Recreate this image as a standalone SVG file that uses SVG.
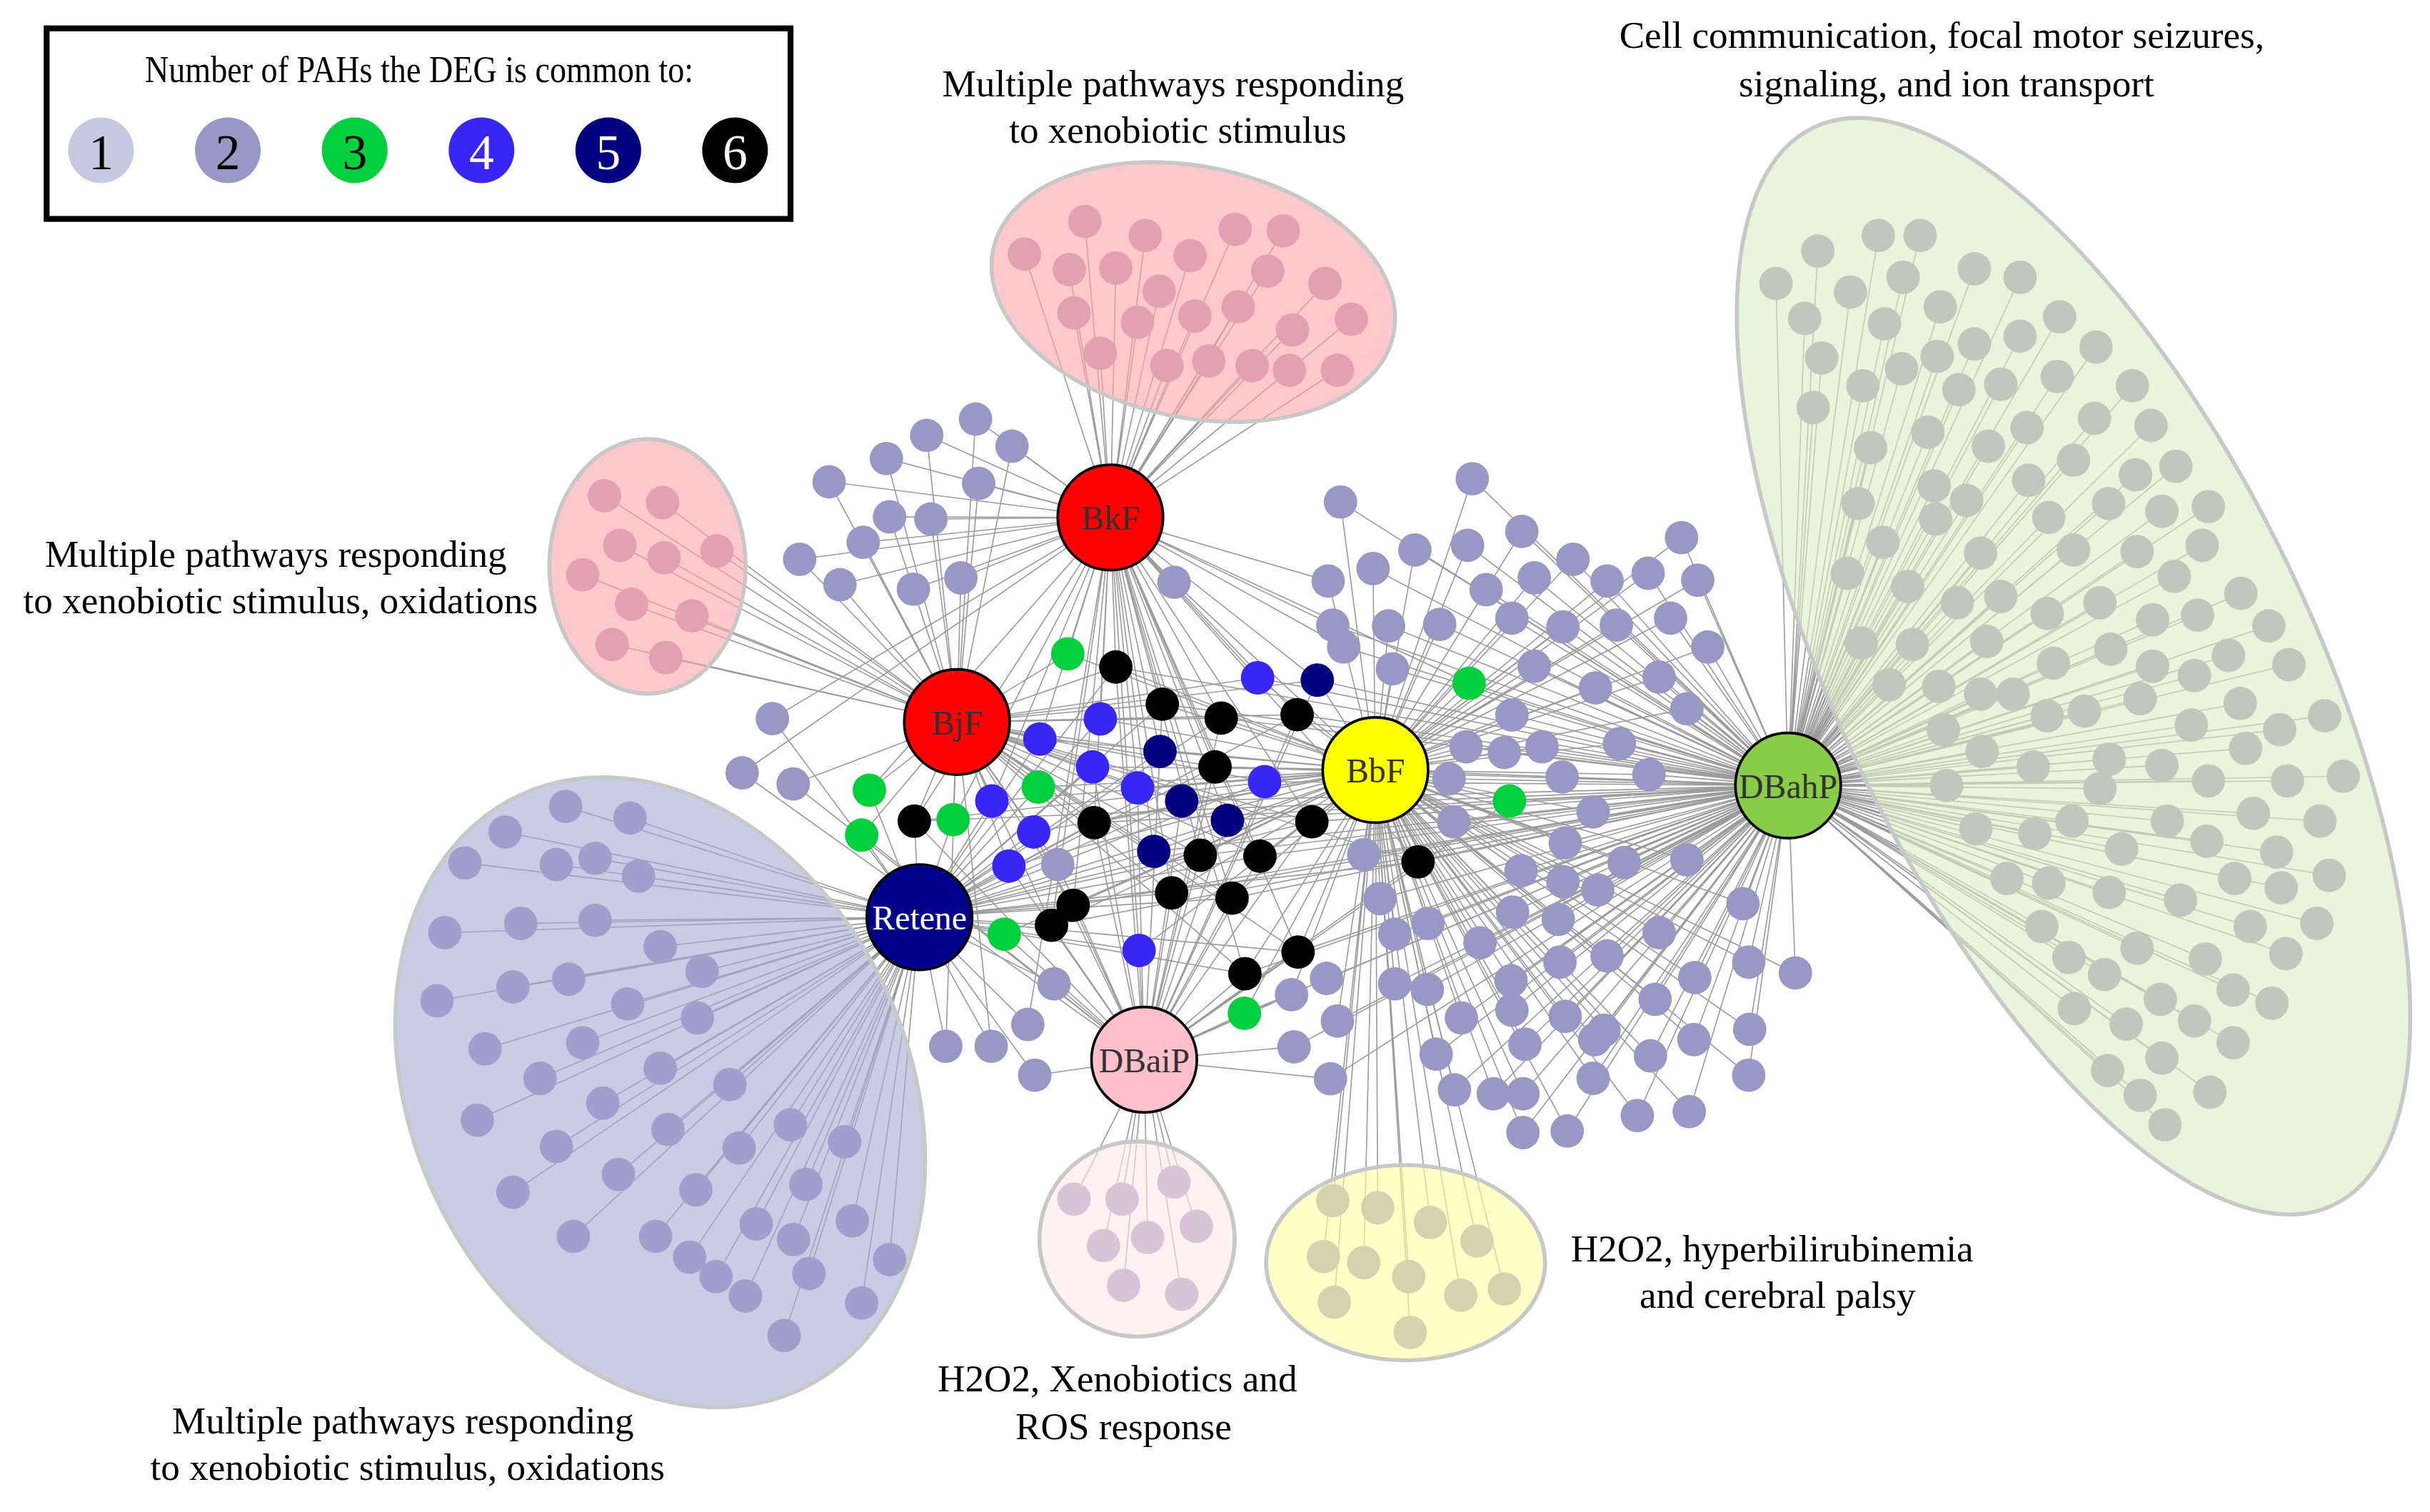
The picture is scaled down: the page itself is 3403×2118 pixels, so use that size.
<svg xmlns="http://www.w3.org/2000/svg" width="3403" height="2118" viewBox="0 0 3403 2118">
<style>
.e{fill:none;stroke:#9c9c9c;stroke-width:.75}
.cl{stroke:#c8c8c8;stroke-width:2.6;fill-opacity:.6}
.t2{fill:#9b97c4}.t3{fill:#00d03c}.t4{fill:#3826f5}.t5{fill:#000080}.t6{fill:#000}
.pk{fill:#e2a1b1}.lv{fill:#a09fcc}.lp{fill:#d9c3d7}.yl{fill:#d5d3ad}.gr{fill:#bec8bc}
.hub{stroke:#000;stroke-width:1.7}
.hl{font-family:"Liberation Serif","Times New Roman",serif;font-size:22px;text-anchor:middle;fill:#333}
.lab{font-family:"Liberation Serif","Times New Roman",serif;font-size:24.5px;text-anchor:middle;fill:#000}
.ln{font-family:"Liberation Serif","Times New Roman",serif;font-size:32px;text-anchor:middle}
</style>
<rect width="3403" height="2118" fill="#fff"/>
<g transform="scale(2.17028)">
<g id="legend">
<rect x="30.1" y="18.3" width="480" height="123" fill="#fff" stroke="#000" stroke-width="3.8"/>
<text x="270.5" y="53" font-family="Liberation Serif, Times New Roman, serif" font-size="24" text-anchor="middle" textLength="354" lengthAdjust="spacingAndGlyphs">Number of PAHs the DEG is common to:</text>
<circle cx="65.2" cy="97" r="21.2" fill="#c8c8e0"/><text class="ln" x="65.2" y="109" fill="#000">1</text>
<circle cx="147" cy="97" r="21.2" fill="#9b97c4"/><text class="ln" x="147" y="109" fill="#000">2</text>
<circle cx="228.9" cy="97" r="21.2" fill="#00d03c"/><text class="ln" x="228.9" y="109" fill="#000">3</text>
<circle cx="310.7" cy="97" r="21.2" fill="#3826f5"/><text class="ln" x="310.7" y="109" fill="#fff">4</text>
<circle cx="392.5" cy="97" r="21.2" fill="#000080"/><text class="ln" x="392.5" y="109" fill="#fff">5</text>
<circle cx="474.3" cy="97" r="21.2" fill="#000"/><text class="ln" x="474.3" y="109" fill="#fff">6</text>
</g>
<g id="connectors" class="e">
<path id="e-BkF" d="M716.5 334L700 143M716.5 334L739 152M716.5 334L797 148M716.5 334L828 149M716.5 334L661 164M716.5 334L690 174M716.5 334L720 173M716.5 334L768 165M716.5 334L818 175M716.5 334L855 183M716.5 334L748 188M716.5 334L693 202M716.5 334L734 208M716.5 334L771 204M716.5 334L799 198M716.5 334L834 213M716.5 334L872 206M716.5 334L710 228M716.5 334L753 236M716.5 334L780 233M716.5 334L808 236M716.5 334L832 239M716.5 334L863 239M716.5 334L629.5 270.5M716.5 334L598 281M716.5 334L653 288M716.5 334L572 296M716.5 334L535 311M716.5 334L631.5 312M716.5 334L574 333.6M716.5 334L600.7 335M716.5 334L557 350M716.5 334L516 361M716.5 334L620 373M716.5 334L542 377.4M716.5 334L589.4 380.3M716.5 334L757.6 375.8M716.5 334L498.4 463.8M716.5 334L478.9 498.8M716.5 334L663.2 661.2M716.5 334L857 375M716.5 334L860 403.5M716.5 334L867 417.6M716.5 334L689 422M716.5 334L948 441M716.5 334L561 510M716.5 334L615 529M716.5 334L811.5 437.5M716.5 334L710 464M716.5 334L671 477M716.5 334L640 517M716.5 334L734 508.5M716.5 334L735 613.5M716.5 334L850 439M716.5 334L748.5 485M716.5 334L792 529.5M716.5 334L744.5 549.5M716.5 334L720 430.5M716.5 334L750 454.5M716.5 334L788 463.5M716.5 334L837 461.3M716.5 334L784 495M716.5 334L846.5 530.4M716.5 334L706 531M716.5 334L590 530M716.5 334L774.5 552M716.5 334L813 552.6M716.5 334L756 576.3M716.5 334L795 579.7M716.5 334L692.5 584.3M716.5 334L678.5 597.2M716.5 334L837.6 614.5M716.5 334L803.3 628.5M716.5 334L915 556.3"/>
<path id="e-BjF" d="M617.5 466L390 320M617.5 466L427.5 324.4M617.5 466L400 352M617.5 466L428.5 360M617.5 466L462.6 355.6M617.5 466L376 371M617.5 466L407.5 390M617.5 466L446.5 397.5M617.5 466L395 416M617.5 466L429.6 424.4M617.5 466L629.5 270.5M617.5 466L598 281M617.5 466L653 288M617.5 466L572 296M617.5 466L535 311M617.5 466L631.5 312M617.5 466L574 333.6M617.5 466L600.7 335M617.5 466L557 350M617.5 466L516 361M617.5 466L620 373M617.5 466L542 377.4M617.5 466L589.4 380.3M617.5 466L511.8 506M617.5 466L610.3 675.3M617.5 466L639.6 675.3M617.5 466L682.5 558M617.5 466L689 422M617.5 466L561 510M617.5 466L556 539M617.5 466L615 529M617.5 466L670 508M617.5 466L811.5 437.5M617.5 466L710 464M617.5 466L671 477M617.5 466L705 495M617.5 466L816 504.5M617.5 466L640 517M617.5 466L734 508.5M617.5 466L667 537M617.5 466L651 559M617.5 466L850 439M617.5 466L748.5 485M617.5 466L762.5 517M617.5 466L744.5 549.5M617.5 466L720 430.5M617.5 466L750 454.5M617.5 466L788 463.5M617.5 466L837 461.3M617.5 466L784 495M617.5 466L846.5 530.4M617.5 466L706 531M617.5 466L590 530M617.5 466L774.5 552M617.5 466L813 552.6M617.5 466L756 576.3M617.5 466L795 579.7M617.5 466L692.5 584.3M617.5 466L678.5 597.2M617.5 466L837.6 614.5M617.5 466L803.3 628.5M617.5 466L915 556.3"/>
<path id="e-BbF" d="M887.5 497L860 775M887.5 497L889 779.5M887.5 497L923 789M887.5 497L953 801M887.5 497L854 811M887.5 497L880 815M887.5 497L909 824M887.5 497L861 840.5M887.5 497L942.6 836M887.5 497L970.7 832M887.5 497L910 860M887.5 497L757.6 375.8M887.5 497L950 309M887.5 497L865 324M887.5 497L982 343M887.5 497L913 355M887.5 497L947 352M887.5 497L886 367M887.5 497L857 375M887.5 497L1015 361M887.5 497L1085 347M887.5 497L1063.5 370M887.5 497L990 373M887.5 497L959 380.6M887.5 497L1037 375M887.5 497L1095.5 374.5M887.5 497L896 404M887.5 497L929 403M887.5 497L975.6 399M887.5 497L1008.5 404.6M887.5 497L1043 403.5M887.5 497L1078 399M887.5 497L1102 417.6M887.5 497L898.5 431.7M887.5 497L990 430M887.5 497L1029.5 444M887.5 497L1070.6 437M887.5 497L1088.5 457.5M887.5 497L975.6 461.5M887.5 497L946 482M887.5 497L970.7 485.7M887.5 497L995 482M887.5 497L1045 480M887.5 497L935 502.7M887.5 497L1008 501.5M887.5 497L1064 500M887.5 497L938 530.4M887.5 497L1028 524M887.5 497L1010 544M887.5 497L880 551.6M887.5 497L981.5 562M887.5 497L1048 556.7M887.5 497L1088.5 555M887.5 497L1008.5 569M887.5 497L1031 574.4M887.5 497L890.5 580M887.5 497L976 588.7M887.5 497L1005.5 593.4M887.5 497L1124.7 583.3M887.5 497L900 603M887.5 497L921.5 596M887.5 497L955 608.5M887.5 497L1070.6 602M887.5 497L1006.6 621M887.5 497L1037 617M887.5 497L1128.4 621M887.5 497L900 635M887.5 497L921 638.6M887.5 497L975 633M887.5 497L1093.6 631M887.5 497L833.4 642M887.5 497L863 659M887.5 497L943 657M887.5 497L926.7 680.4M887.5 497L938.5 703.4M887.5 497L963.6 706M887.5 497L982.7 706M887.5 497L982.7 731M887.5 497L1011.3 730M887.5 497L975.6 652M887.5 497L984 674M887.5 497L1010 656M887.5 497L1035 665M887.5 497L1029 671M887.5 497L1028 696M887.5 497L1065 681.5M887.5 497L1068 645M887.5 497L1093 671M887.5 497L1056.5 720M887.5 497L1090 717.5M887.5 497L1129 664.4M887.5 497L1128.4 694M887.5 497L1158.5 628M887.5 497L689 422M887.5 497L948 441M887.5 497L974 517M887.5 497L670 508M887.5 497L648 603M887.5 497L803 654M887.5 497L811.5 437.5M887.5 497L710 464M887.5 497L671 477M887.5 497L705 495M887.5 497L816 504.5M887.5 497L640 517M887.5 497L734 508.5M887.5 497L667 537M887.5 497L651 559M887.5 497L735 613.5M887.5 497L850 439M887.5 497L748.5 485M887.5 497L762.5 517M887.5 497L792 529.5M887.5 497L744.5 549.5M887.5 497L720 430.5M887.5 497L750 454.5M887.5 497L788 463.5M887.5 497L837 461.3M887.5 497L784 495M887.5 497L846.5 530.4M887.5 497L706 531M887.5 497L590 530M887.5 497L774.5 552M887.5 497L813 552.6M887.5 497L756 576.3M887.5 497L795 579.7M887.5 497L692.5 584.3M887.5 497L678.5 597.2M887.5 497L837.6 614.5M887.5 497L803.3 628.5M887.5 497L915 556.3"/>
<path id="e-Retene" d="M593.3 592L365 520.5M593.3 592L406.5 528M593.3 592L326 537M593.3 592L300 557M593.3 592L359 558M593.3 592L384 554M593.3 592L412 565.5M593.3 592L287 602M593.3 592L336 596M593.3 592L384 594M593.3 592L426 611M593.3 592L282 646M593.3 592L331 637M593.3 592L367 632M593.3 592L453 627M593.3 592L405 648M593.3 592L450 657M593.3 592L313 677M593.3 592L376 673M593.3 592L348.5 696M593.3 592L426 689.5M593.3 592L471 700M593.3 592L308 723M593.3 592L389 712M593.3 592L510 726M593.3 592L431 729M593.3 592L359 740M593.3 592L477 741M593.3 592L545 737M593.3 592L331 769.5M593.3 592L399 758M593.3 592L449 768M593.3 592L520 764.5M593.3 592L488 790M593.3 592L512 800M593.3 592L550 788M593.3 592L370 798M593.3 592L423 798M593.3 592L445 811.5M593.3 592L462 824M593.3 592L522 822M593.3 592L481 836.5M593.3 592L574 813M593.3 592L556 841M593.3 592L506 862M593.3 592L498.4 463.8M593.3 592L610.3 675.3M593.3 592L639.6 675.3M593.3 592L663.2 661.2M593.3 592L667.7 694M593.3 592L680.1 635M593.3 592L561 510M593.3 592L556 539M593.3 592L615 529M593.3 592L670 508M593.3 592L648 603M593.3 592L710 464M593.3 592L671 477M593.3 592L705 495M593.3 592L816 504.5M593.3 592L640 517M593.3 592L667 537M593.3 592L651 559M593.3 592L735 613.5M593.3 592L748.5 485M593.3 592L762.5 517M593.3 592L792 529.5M593.3 592L744.5 549.5M593.3 592L720 430.5M593.3 592L750 454.5M593.3 592L788 463.5M593.3 592L837 461.3M593.3 592L784 495M593.3 592L846.5 530.4M593.3 592L706 531M593.3 592L590 530M593.3 592L774.5 552M593.3 592L813 552.6M593.3 592L756 576.3M593.3 592L795 579.7M593.3 592L692.5 584.3M593.3 592L678.5 597.2M593.3 592L837.6 614.5M593.3 592L803.3 628.5M593.3 592L915 556.3"/>
<path id="e-DBaiP" d="M738.3 684L693 774M738.3 684L724 774M738.3 684L757.5 763M738.3 684L772 791.5M738.3 684L712 804M738.3 684L740.5 798.7M738.3 684L725 829.6M738.3 684L762.5 835.3M738.3 684L478.9 498.8M738.3 684L511.8 506M738.3 684L667.7 694M738.3 684L680.1 635M738.3 684L682.5 558M738.3 684L856 631.5M738.3 684L833.4 642M738.3 684L835 675.7M738.3 684L858.5 696.3M738.3 684L974 517M738.3 684L556 539M738.3 684L648 603M738.3 684L803 654M738.3 684L705 495M738.3 684L734 508.5M738.3 684L667 537M738.3 684L651 559M738.3 684L735 613.5M738.3 684L850 439M738.3 684L748.5 485M738.3 684L762.5 517M738.3 684L792 529.5M738.3 684L720 430.5M738.3 684L750 454.5M738.3 684L788 463.5M738.3 684L837 461.3M738.3 684L784 495M738.3 684L846.5 530.4M738.3 684L706 531M738.3 684L590 530M738.3 684L774.5 552M738.3 684L813 552.6M738.3 684L756 576.3M738.3 684L795 579.7M738.3 684L692.5 584.3M738.3 684L678.5 597.2M738.3 684L837.6 614.5M738.3 684L803.3 628.5M738.3 684L915 556.3"/>
<path id="e-DBahP" d="M1153.8 507L1146 183M1153.8 507L1173 162M1153.8 507L1212 152M1153.8 507L1239 152M1153.8 507L1194 188.5M1153.8 507L1228 179M1153.8 507L1274 173.5M1153.8 507L1303.5 179M1153.8 507L1164.5 205.5M1153.8 507L1216 209M1153.8 507L1252 198M1153.8 507L1175.5 231M1153.8 507L1227 238M1153.8 507L1250 230M1153.8 507L1274 222M1153.8 507L1303.5 217M1153.8 507L1329 204.5M1153.8 507L1170 263M1153.8 507L1202 249M1153.8 507L1264 251.5M1153.8 507L1291 248M1153.8 507L1327.5 243M1153.8 507L1352.5 224M1153.8 507L1376 249M1153.8 507L1207 289M1153.8 507L1244 279M1153.8 507L1283 288M1153.8 507L1308 276M1153.8 507L1338 297M1153.8 507L1351.5 270M1153.8 507L1388 274.6M1153.8 507L1199 325M1153.8 507L1248 313.6M1153.8 507L1249 335M1153.8 507L1269 323M1153.8 507L1309 310M1153.8 507L1322 334M1153.8 507L1360.6 325M1153.8 507L1378 306.5M1153.8 507L1404 301M1153.8 507L1395 330M1153.8 507L1425 327M1153.8 507L1215 350M1153.8 507L1278 357M1153.8 507L1338 355M1153.8 507L1379 356M1153.8 507L1421 352M1153.8 507L1192 370M1153.8 507L1231 378.5M1153.8 507L1263 389M1153.8 507L1291 385M1153.8 507L1321 396M1153.8 507L1355 389M1153.8 507L1389 400M1153.8 507L1403 372M1153.8 507L1418 397M1153.8 507L1446 383M1153.8 507L1464 404M1153.8 507L1201 415M1153.8 507L1234 416M1153.8 507L1282 414M1153.8 507L1325 428M1153.8 507L1362 419M1153.8 507L1389 430M1153.8 507L1416 436M1153.8 507L1438 423M1153.8 507L1477 429M1153.8 507L1219 442M1153.8 507L1251 443M1153.8 507L1278 448M1153.8 507L1299 448M1153.8 507L1321 462M1153.8 507L1345 459M1153.8 507L1381 451M1153.8 507L1414 468M1153.8 507L1445.5 454M1153.8 507L1471 471M1153.8 507L1500 462M1153.8 507L1254 471M1153.8 507L1279 485M1153.8 507L1312 495M1153.8 507L1361 490M1153.8 507L1395 494M1153.8 507L1425 504M1153.8 507L1449 483M1153.8 507L1476 504M1153.8 507L1512 501M1153.8 507L1256 507M1153.8 507L1355 509M1153.8 507L1275 535M1153.8 507L1313 538M1153.8 507L1337 530M1153.8 507L1369 548M1153.8 507L1398.5 530M1153.8 507L1424 543M1153.8 507L1454 525M1153.8 507L1497 530M1153.8 507L1295 567M1153.8 507L1322 570M1153.8 507L1361 576M1153.8 507L1407 581M1153.8 507L1442 567M1153.8 507L1469 550M1153.8 507L1472 573M1153.8 507L1503 565M1153.8 507L1317.5 598M1153.8 507L1335 618M1153.8 507L1358 629M1153.8 507L1379 612M1153.8 507L1423 619M1153.8 507L1452 598M1153.8 507L1475 615.5M1153.8 507L1495 596M1153.8 507L1338.5 651M1153.8 507L1372 661M1153.8 507L1394 645M1153.8 507L1416 659M1153.8 507L1441 639M1153.8 507L1466 647.5M1153.8 507L1360 691M1153.8 507L1381 707M1153.8 507L1395 683M1153.8 507L1426 705M1153.8 507L1441 673M1153.8 507L1397 726M1153.8 507L950 309M1153.8 507L865 324M1153.8 507L982 343M1153.8 507L913 355M1153.8 507L947 352M1153.8 507L886 367M1153.8 507L1015 361M1153.8 507L1085 347M1153.8 507L1063.5 370M1153.8 507L990 373M1153.8 507L959 380.6M1153.8 507L1037 375M1153.8 507L1095.5 374.5M1153.8 507L860 403.5M1153.8 507L896 404M1153.8 507L929 403M1153.8 507L975.6 399M1153.8 507L1008.5 404.6M1153.8 507L1043 403.5M1153.8 507L1078 399M1153.8 507L867 417.6M1153.8 507L1102 417.6M1153.8 507L898.5 431.7M1153.8 507L990 430M1153.8 507L1029.5 444M1153.8 507L1070.6 437M1153.8 507L1088.5 457.5M1153.8 507L975.6 461.5M1153.8 507L946 482M1153.8 507L970.7 485.7M1153.8 507L995 482M1153.8 507L1045 480M1153.8 507L935 502.7M1153.8 507L1008 501.5M1153.8 507L1064 500M1153.8 507L938 530.4M1153.8 507L1028 524M1153.8 507L1010 544M1153.8 507L880 551.6M1153.8 507L981.5 562M1153.8 507L1048 556.7M1153.8 507L1088.5 555M1153.8 507L1008.5 569M1153.8 507L1031 574.4M1153.8 507L890.5 580M1153.8 507L976 588.7M1153.8 507L1005.5 593.4M1153.8 507L1124.7 583.3M1153.8 507L900 603M1153.8 507L921.5 596M1153.8 507L955 608.5M1153.8 507L1070.6 602M1153.8 507L1006.6 621M1153.8 507L1037 617M1153.8 507L1128.4 621M1153.8 507L856 631.5M1153.8 507L900 635M1153.8 507L921 638.6M1153.8 507L975 633M1153.8 507L1093.6 631M1153.8 507L863 659M1153.8 507L835 675.7M1153.8 507L858.5 696.3M1153.8 507L943 657M1153.8 507L926.7 680.4M1153.8 507L938.5 703.4M1153.8 507L963.6 706M1153.8 507L982.7 706M1153.8 507L982.7 731M1153.8 507L1011.3 730M1153.8 507L975.6 652M1153.8 507L984 674M1153.8 507L1010 656M1153.8 507L1035 665M1153.8 507L1029 671M1153.8 507L1028 696M1153.8 507L1065 681.5M1153.8 507L1068 645M1153.8 507L1093 671M1153.8 507L1056.5 720M1153.8 507L1090 717.5M1153.8 507L1129 664.4M1153.8 507L1128.4 694M1153.8 507L1158.5 628M1153.8 507L948 441M1153.8 507L974 517M1153.8 507L803 654M1153.8 507L811.5 437.5M1153.8 507L816 504.5M1153.8 507L850 439M1153.8 507L762.5 517M1153.8 507L792 529.5M1153.8 507L744.5 549.5M1153.8 507L720 430.5M1153.8 507L750 454.5M1153.8 507L788 463.5M1153.8 507L837 461.3M1153.8 507L784 495M1153.8 507L846.5 530.4M1153.8 507L706 531M1153.8 507L590 530M1153.8 507L774.5 552M1153.8 507L813 552.6M1153.8 507L756 576.3M1153.8 507L795 579.7M1153.8 507L692.5 584.3M1153.8 507L678.5 597.2M1153.8 507L837.6 614.5M1153.8 507L803.3 628.5M1153.8 507L915 556.3"/>
</g>
<g id="clusters">
<ellipse class="cl" cx="770" cy="188.5" rx="132" ry="81" transform="rotate(12 770 188.5)" fill="#ffa3aa"/>
<ellipse class="cl" cx="417.8" cy="365.6" rx="63.3" ry="82.2" fill="#ffa3aa"/>
<ellipse class="cl" cx="426" cy="705" rx="160" ry="212" transform="rotate(-25.6 426 705)" fill="#a8a8d5"/>
<circle class="cl" cx="733.7" cy="799.7" r="63" fill="#ffe6e9"/>
<ellipse class="cl" cx="907" cy="815" rx="90" ry="63" fill="#ffffa3"/>
<ellipse class="cl" cx="1338" cy="430" rx="386" ry="153" transform="rotate(64.2 1338 430)" fill="#d9edc5"/>
</g>
<g id="nodes-pink-top" class="pk">
<circle cx="700" cy="143" r="10.8"/><circle cx="739" cy="152" r="10.8"/><circle cx="797" cy="148" r="10.8"/><circle cx="828" cy="149" r="10.8"/><circle cx="661" cy="164" r="10.8"/><circle cx="690" cy="174" r="10.8"/><circle cx="720" cy="173" r="10.8"/><circle cx="768" cy="165" r="10.8"/><circle cx="818" cy="175" r="10.8"/><circle cx="855" cy="183" r="10.8"/><circle cx="748" cy="188" r="10.8"/><circle cx="693" cy="202" r="10.8"/><circle cx="734" cy="208" r="10.8"/><circle cx="771" cy="204" r="10.8"/><circle cx="799" cy="198" r="10.8"/><circle cx="834" cy="213" r="10.8"/><circle cx="872" cy="206" r="10.8"/><circle cx="710" cy="228" r="10.8"/><circle cx="753" cy="236" r="10.8"/><circle cx="780" cy="233" r="10.8"/><circle cx="808" cy="236" r="10.8"/><circle cx="832" cy="239" r="10.8"/><circle cx="863" cy="239" r="10.8"/>
</g>
<g id="nodes-pink-left" class="pk">
<circle cx="390" cy="320" r="10.8"/><circle cx="427.5" cy="324.4" r="10.8"/><circle cx="400" cy="352" r="10.8"/><circle cx="428.5" cy="360" r="10.8"/><circle cx="462.6" cy="355.6" r="10.8"/><circle cx="376" cy="371" r="10.8"/><circle cx="407.5" cy="390" r="10.8"/><circle cx="446.5" cy="397.5" r="10.8"/><circle cx="395" cy="416" r="10.8"/><circle cx="429.6" cy="424.4" r="10.8"/>
</g>
<g id="nodes-lavender" class="lv">
<circle cx="365" cy="520.5" r="10.8"/><circle cx="406.5" cy="528" r="10.8"/><circle cx="326" cy="537" r="10.8"/><circle cx="300" cy="557" r="10.8"/><circle cx="359" cy="558" r="10.8"/><circle cx="384" cy="554" r="10.8"/><circle cx="412" cy="565.5" r="10.8"/><circle cx="287" cy="602" r="10.8"/><circle cx="336" cy="596" r="10.8"/><circle cx="384" cy="594" r="10.8"/><circle cx="426" cy="611" r="10.8"/><circle cx="282" cy="646" r="10.8"/><circle cx="331" cy="637" r="10.8"/><circle cx="367" cy="632" r="10.8"/><circle cx="453" cy="627" r="10.8"/><circle cx="405" cy="648" r="10.8"/><circle cx="450" cy="657" r="10.8"/><circle cx="313" cy="677" r="10.8"/><circle cx="376" cy="673" r="10.8"/><circle cx="348.5" cy="696" r="10.8"/><circle cx="426" cy="689.5" r="10.8"/><circle cx="471" cy="700" r="10.8"/><circle cx="308" cy="723" r="10.8"/><circle cx="389" cy="712" r="10.8"/><circle cx="510" cy="726" r="10.8"/><circle cx="431" cy="729" r="10.8"/><circle cx="359" cy="740" r="10.8"/><circle cx="477" cy="741" r="10.8"/><circle cx="545" cy="737" r="10.8"/><circle cx="331" cy="769.5" r="10.8"/><circle cx="399" cy="758" r="10.8"/><circle cx="449" cy="768" r="10.8"/><circle cx="520" cy="764.5" r="10.8"/><circle cx="488" cy="790" r="10.8"/><circle cx="512" cy="800" r="10.8"/><circle cx="550" cy="788" r="10.8"/><circle cx="370" cy="798" r="10.8"/><circle cx="423" cy="798" r="10.8"/><circle cx="445" cy="811.5" r="10.8"/><circle cx="462" cy="824" r="10.8"/><circle cx="522" cy="822" r="10.8"/><circle cx="481" cy="836.5" r="10.8"/><circle cx="574" cy="813" r="10.8"/><circle cx="556" cy="841" r="10.8"/><circle cx="506" cy="862" r="10.8"/>
</g>
<g id="nodes-lightpink" class="lp">
<circle cx="693" cy="774" r="10.8"/><circle cx="724" cy="774" r="10.8"/><circle cx="757.5" cy="763" r="10.8"/><circle cx="772" cy="791.5" r="10.8"/><circle cx="712" cy="804" r="10.8"/><circle cx="740.5" cy="798.7" r="10.8"/><circle cx="725" cy="829.6" r="10.8"/><circle cx="762.5" cy="835.3" r="10.8"/>
</g>
<g id="nodes-yellow" class="yl">
<circle cx="860" cy="775" r="10.8"/><circle cx="889" cy="779.5" r="10.8"/><circle cx="923" cy="789" r="10.8"/><circle cx="953" cy="801" r="10.8"/><circle cx="854" cy="811" r="10.8"/><circle cx="880" cy="815" r="10.8"/><circle cx="909" cy="824" r="10.8"/><circle cx="861" cy="840.5" r="10.8"/><circle cx="942.6" cy="836" r="10.8"/><circle cx="970.7" cy="832" r="10.8"/><circle cx="910" cy="860" r="10.8"/>
</g>
<g id="nodes-green" class="gr">
<circle cx="1146" cy="183" r="10.8"/><circle cx="1173" cy="162" r="10.8"/><circle cx="1212" cy="152" r="10.8"/><circle cx="1239" cy="152" r="10.8"/><circle cx="1194" cy="188.5" r="10.8"/><circle cx="1228" cy="179" r="10.8"/><circle cx="1274" cy="173.5" r="10.8"/><circle cx="1303.5" cy="179" r="10.8"/><circle cx="1164.5" cy="205.5" r="10.8"/><circle cx="1216" cy="209" r="10.8"/><circle cx="1252" cy="198" r="10.8"/><circle cx="1175.5" cy="231" r="10.8"/><circle cx="1227" cy="238" r="10.8"/><circle cx="1250" cy="230" r="10.8"/><circle cx="1274" cy="222" r="10.8"/><circle cx="1303.5" cy="217" r="10.8"/><circle cx="1329" cy="204.5" r="10.8"/><circle cx="1170" cy="263" r="10.8"/><circle cx="1202" cy="249" r="10.8"/><circle cx="1264" cy="251.5" r="10.8"/><circle cx="1291" cy="248" r="10.8"/><circle cx="1327.5" cy="243" r="10.8"/><circle cx="1352.5" cy="224" r="10.8"/><circle cx="1376" cy="249" r="10.8"/><circle cx="1207" cy="289" r="10.8"/><circle cx="1244" cy="279" r="10.8"/><circle cx="1283" cy="288" r="10.8"/><circle cx="1308" cy="276" r="10.8"/><circle cx="1338" cy="297" r="10.8"/><circle cx="1351.5" cy="270" r="10.8"/><circle cx="1388" cy="274.6" r="10.8"/><circle cx="1199" cy="325" r="10.8"/><circle cx="1248" cy="313.6" r="10.8"/><circle cx="1249" cy="335" r="10.8"/><circle cx="1269" cy="323" r="10.8"/><circle cx="1309" cy="310" r="10.8"/><circle cx="1322" cy="334" r="10.8"/><circle cx="1360.6" cy="325" r="10.8"/><circle cx="1378" cy="306.5" r="10.8"/><circle cx="1404" cy="301" r="10.8"/><circle cx="1395" cy="330" r="10.8"/><circle cx="1425" cy="327" r="10.8"/><circle cx="1215" cy="350" r="10.8"/><circle cx="1278" cy="357" r="10.8"/><circle cx="1338" cy="355" r="10.8"/><circle cx="1379" cy="356" r="10.8"/><circle cx="1421" cy="352" r="10.8"/><circle cx="1192" cy="370" r="10.8"/><circle cx="1231" cy="378.5" r="10.8"/><circle cx="1263" cy="389" r="10.8"/><circle cx="1291" cy="385" r="10.8"/><circle cx="1321" cy="396" r="10.8"/><circle cx="1355" cy="389" r="10.8"/><circle cx="1389" cy="400" r="10.8"/><circle cx="1403" cy="372" r="10.8"/><circle cx="1418" cy="397" r="10.8"/><circle cx="1446" cy="383" r="10.8"/><circle cx="1464" cy="404" r="10.8"/><circle cx="1201" cy="415" r="10.8"/><circle cx="1234" cy="416" r="10.8"/><circle cx="1282" cy="414" r="10.8"/><circle cx="1325" cy="428" r="10.8"/><circle cx="1362" cy="419" r="10.8"/><circle cx="1389" cy="430" r="10.8"/><circle cx="1416" cy="436" r="10.8"/><circle cx="1438" cy="423" r="10.8"/><circle cx="1477" cy="429" r="10.8"/><circle cx="1219" cy="442" r="10.8"/><circle cx="1251" cy="443" r="10.8"/><circle cx="1278" cy="448" r="10.8"/><circle cx="1299" cy="448" r="10.8"/><circle cx="1321" cy="462" r="10.8"/><circle cx="1345" cy="459" r="10.8"/><circle cx="1381" cy="451" r="10.8"/><circle cx="1414" cy="468" r="10.8"/><circle cx="1445.5" cy="454" r="10.8"/><circle cx="1471" cy="471" r="10.8"/><circle cx="1500" cy="462" r="10.8"/><circle cx="1254" cy="471" r="10.8"/><circle cx="1279" cy="485" r="10.8"/><circle cx="1312" cy="495" r="10.8"/><circle cx="1361" cy="490" r="10.8"/><circle cx="1395" cy="494" r="10.8"/><circle cx="1425" cy="504" r="10.8"/><circle cx="1449" cy="483" r="10.8"/><circle cx="1476" cy="504" r="10.8"/><circle cx="1512" cy="501" r="10.8"/><circle cx="1256" cy="507" r="10.8"/><circle cx="1355" cy="509" r="10.8"/><circle cx="1275" cy="535" r="10.8"/><circle cx="1313" cy="538" r="10.8"/><circle cx="1337" cy="530" r="10.8"/><circle cx="1369" cy="548" r="10.8"/><circle cx="1398.5" cy="530" r="10.8"/><circle cx="1424" cy="543" r="10.8"/><circle cx="1454" cy="525" r="10.8"/><circle cx="1497" cy="530" r="10.8"/><circle cx="1295" cy="567" r="10.8"/><circle cx="1322" cy="570" r="10.8"/><circle cx="1361" cy="576" r="10.8"/><circle cx="1407" cy="581" r="10.8"/><circle cx="1442" cy="567" r="10.8"/><circle cx="1469" cy="550" r="10.8"/><circle cx="1472" cy="573" r="10.8"/><circle cx="1503" cy="565" r="10.8"/><circle cx="1317.5" cy="598" r="10.8"/><circle cx="1335" cy="618" r="10.8"/><circle cx="1358" cy="629" r="10.8"/><circle cx="1379" cy="612" r="10.8"/><circle cx="1423" cy="619" r="10.8"/><circle cx="1452" cy="598" r="10.8"/><circle cx="1475" cy="615.5" r="10.8"/><circle cx="1495" cy="596" r="10.8"/><circle cx="1338.5" cy="651" r="10.8"/><circle cx="1372" cy="661" r="10.8"/><circle cx="1394" cy="645" r="10.8"/><circle cx="1416" cy="659" r="10.8"/><circle cx="1441" cy="639" r="10.8"/><circle cx="1466" cy="647.5" r="10.8"/><circle cx="1360" cy="691" r="10.8"/><circle cx="1381" cy="707" r="10.8"/><circle cx="1395" cy="683" r="10.8"/><circle cx="1426" cy="705" r="10.8"/><circle cx="1441" cy="673" r="10.8"/><circle cx="1397" cy="726" r="10.8"/>
</g>
<g id="nodes-type2" class="t2">
<circle cx="629.5" cy="270.5" r="10.8"/><circle cx="598" cy="281" r="10.8"/><circle cx="653" cy="288" r="10.8"/><circle cx="572" cy="296" r="10.8"/><circle cx="535" cy="311" r="10.8"/><circle cx="631.5" cy="312" r="10.8"/><circle cx="574" cy="333.6" r="10.8"/><circle cx="600.7" cy="335" r="10.8"/><circle cx="557" cy="350" r="10.8"/><circle cx="516" cy="361" r="10.8"/><circle cx="620" cy="373" r="10.8"/><circle cx="542" cy="377.4" r="10.8"/><circle cx="589.4" cy="380.3" r="10.8"/>
<circle cx="757.6" cy="375.8" r="10.8"/><circle cx="498.4" cy="463.8" r="10.8"/><circle cx="478.9" cy="498.8" r="10.8"/><circle cx="511.8" cy="506" r="10.8"/><circle cx="610.3" cy="675.3" r="10.8"/><circle cx="639.6" cy="675.3" r="10.8"/><circle cx="663.2" cy="661.2" r="10.8"/><circle cx="667.7" cy="694" r="10.8"/><circle cx="680.1" cy="635" r="10.8"/><circle cx="682.5" cy="558" r="10.8"/>
<circle cx="950" cy="309" r="10.8"/><circle cx="865" cy="324" r="10.8"/><circle cx="982" cy="343" r="10.8"/><circle cx="913" cy="355" r="10.8"/><circle cx="947" cy="352" r="10.8"/><circle cx="886" cy="367" r="10.8"/><circle cx="857" cy="375" r="10.8"/><circle cx="1015" cy="361" r="10.8"/><circle cx="1085" cy="347" r="10.8"/><circle cx="1063.5" cy="370" r="10.8"/><circle cx="990" cy="373" r="10.8"/><circle cx="959" cy="380.6" r="10.8"/><circle cx="1037" cy="375" r="10.8"/><circle cx="1095.5" cy="374.5" r="10.8"/><circle cx="860" cy="403.5" r="10.8"/><circle cx="896" cy="404" r="10.8"/><circle cx="929" cy="403" r="10.8"/><circle cx="975.6" cy="399" r="10.8"/><circle cx="1008.5" cy="404.6" r="10.8"/><circle cx="1043" cy="403.5" r="10.8"/><circle cx="1078" cy="399" r="10.8"/><circle cx="867" cy="417.6" r="10.8"/><circle cx="1102" cy="417.6" r="10.8"/><circle cx="898.5" cy="431.7" r="10.8"/><circle cx="990" cy="430" r="10.8"/><circle cx="1029.5" cy="444" r="10.8"/><circle cx="1070.6" cy="437" r="10.8"/><circle cx="1088.5" cy="457.5" r="10.8"/><circle cx="975.6" cy="461.5" r="10.8"/><circle cx="946" cy="482" r="10.8"/><circle cx="970.7" cy="485.7" r="10.8"/><circle cx="995" cy="482" r="10.8"/><circle cx="1045" cy="480" r="10.8"/><circle cx="935" cy="502.7" r="10.8"/><circle cx="1008" cy="501.5" r="10.8"/><circle cx="1064" cy="500" r="10.8"/><circle cx="938" cy="530.4" r="10.8"/><circle cx="1028" cy="524" r="10.8"/><circle cx="1010" cy="544" r="10.8"/><circle cx="880" cy="551.6" r="10.8"/><circle cx="981.5" cy="562" r="10.8"/><circle cx="1048" cy="556.7" r="10.8"/><circle cx="1088.5" cy="555" r="10.8"/><circle cx="1008.5" cy="569" r="10.8"/><circle cx="1031" cy="574.4" r="10.8"/><circle cx="890.5" cy="580" r="10.8"/><circle cx="976" cy="588.7" r="10.8"/><circle cx="1005.5" cy="593.4" r="10.8"/><circle cx="1124.7" cy="583.3" r="10.8"/><circle cx="900" cy="603" r="10.8"/><circle cx="921.5" cy="596" r="10.8"/><circle cx="955" cy="608.5" r="10.8"/><circle cx="1070.6" cy="602" r="10.8"/><circle cx="1006.6" cy="621" r="10.8"/><circle cx="1037" cy="617" r="10.8"/><circle cx="1128.4" cy="621" r="10.8"/><circle cx="856" cy="631.5" r="10.8"/><circle cx="900" cy="635" r="10.8"/><circle cx="921" cy="638.6" r="10.8"/><circle cx="975" cy="633" r="10.8"/><circle cx="1093.6" cy="631" r="10.8"/><circle cx="833.4" cy="642" r="10.8"/><circle cx="863" cy="659" r="10.8"/><circle cx="835" cy="675.7" r="10.8"/><circle cx="858.5" cy="696.3" r="10.8"/><circle cx="943" cy="657" r="10.8"/><circle cx="926.7" cy="680.4" r="10.8"/><circle cx="938.5" cy="703.4" r="10.8"/><circle cx="963.6" cy="706" r="10.8"/><circle cx="982.7" cy="706" r="10.8"/><circle cx="982.7" cy="731" r="10.8"/><circle cx="1011.3" cy="730" r="10.8"/><circle cx="975.6" cy="652" r="10.8"/><circle cx="984" cy="674" r="10.8"/><circle cx="1010" cy="656" r="10.8"/><circle cx="1035" cy="665" r="10.8"/><circle cx="1029" cy="671" r="10.8"/><circle cx="1028" cy="696" r="10.8"/><circle cx="1065" cy="681.5" r="10.8"/><circle cx="1068" cy="645" r="10.8"/><circle cx="1093" cy="671" r="10.8"/><circle cx="1056.5" cy="720" r="10.8"/><circle cx="1090" cy="717.5" r="10.8"/><circle cx="1129" cy="664.4" r="10.8"/><circle cx="1128.4" cy="694" r="10.8"/><circle cx="1158.5" cy="628" r="10.8"/>
</g>
<g id="nodes-type3" class="t3">
<circle cx="689" cy="422" r="10.8"/><circle cx="948" cy="441" r="10.8"/><circle cx="974" cy="517" r="10.8"/><circle cx="561" cy="510" r="10.8"/><circle cx="556" cy="539" r="10.8"/><circle cx="615" cy="529" r="10.8"/><circle cx="670" cy="508" r="10.8"/><circle cx="648" cy="603" r="10.8"/><circle cx="803" cy="654" r="10.8"/>
</g>
<g id="nodes-type4" class="t4">
<circle cx="811.5" cy="437.5" r="10.8"/><circle cx="710" cy="464" r="10.8"/><circle cx="671" cy="477" r="10.8"/><circle cx="705" cy="495" r="10.8"/><circle cx="816" cy="504.5" r="10.8"/><circle cx="640" cy="517" r="10.8"/><circle cx="734" cy="508.5" r="10.8"/><circle cx="667" cy="537" r="10.8"/><circle cx="651" cy="559" r="10.8"/><circle cx="735" cy="613.5" r="10.8"/>
</g>
<g id="nodes-type5" class="t5">
<circle cx="850" cy="439" r="10.8"/><circle cx="748.5" cy="485" r="10.8"/><circle cx="762.5" cy="517" r="10.8"/><circle cx="792" cy="529.5" r="10.8"/><circle cx="744.5" cy="549.5" r="10.8"/>
</g>
<g id="nodes-type6" class="t6">
<circle cx="720" cy="430.5" r="10.8"/><circle cx="750" cy="454.5" r="10.8"/><circle cx="788" cy="463.5" r="10.8"/><circle cx="837" cy="461.3" r="10.8"/><circle cx="784" cy="495" r="10.8"/><circle cx="846.5" cy="530.4" r="10.8"/><circle cx="706" cy="531" r="10.8"/><circle cx="590" cy="530" r="10.8"/><circle cx="774.5" cy="552" r="10.8"/><circle cx="813" cy="552.6" r="10.8"/><circle cx="756" cy="576.3" r="10.8"/><circle cx="795" cy="579.7" r="10.8"/><circle cx="692.5" cy="584.3" r="10.8"/><circle cx="678.5" cy="597.2" r="10.8"/><circle cx="837.6" cy="614.5" r="10.8"/><circle cx="803.3" cy="628.5" r="10.8"/><circle cx="915" cy="556.3" r="10.8"/>
</g>
<g id="BkF"><circle class="hub" cx="716.5" cy="334" r="34" fill="#ff0000"/><text class="hl" x="716.5" y="342">BkF</text></g>
<g id="BjF"><circle class="hub" cx="617.5" cy="466" r="34" fill="#ff0000"/><text class="hl" x="617.5" y="474">BjF</text></g>
<g id="BbF"><circle class="hub" cx="887.5" cy="497" r="34" fill="#ffff00"/><text class="hl" x="887.5" y="505">BbF</text></g>
<g id="Retene"><circle class="hub" cx="593.3" cy="592" r="34" fill="#00008b"/><text class="hl" x="593.3" y="600" fill="#fff" style="fill:#fff">Retene</text></g>
<g id="DBaiP"><circle class="hub" cx="738.3" cy="684" r="34" fill="#ffc0cb"/><text class="hl" x="738.3" y="692">DBaiP</text></g>
<g id="DBahP"><circle class="hub" cx="1153.8" cy="507" r="34" fill="#88cc48"/><text class="hl" x="1153.8" y="515">DBahP</text></g>
<g id="labels">
<text class="lab" x="757" y="62">Multiple pathways responding</text>
<text class="lab" x="760" y="92">to xenobiotic stimulus</text>
<text class="lab" x="1253" y="31">Cell communication, focal motor seizures,</text>
<text class="lab" x="1256" y="62">signaling, and ion transport</text>
<text class="lab" x="178" y="366">Multiple pathways responding</text>
<text class="lab" x="181" y="396">to xenobiotic stimulus, oxidations</text>
<text class="lab" x="260" y="925">Multiple pathways responding</text>
<text class="lab" x="263" y="955">to xenobiotic stimulus, oxidations</text>
<text class="lab" x="721" y="898">H2O2, Xenobiotics and</text>
<text class="lab" x="725" y="929">ROS response</text>
<text class="lab" x="1143.5" y="814">H2O2, hyperbilirubinemia</text>
<text class="lab" x="1147" y="844">and cerebral palsy</text>
</g>
</g>
</svg>
